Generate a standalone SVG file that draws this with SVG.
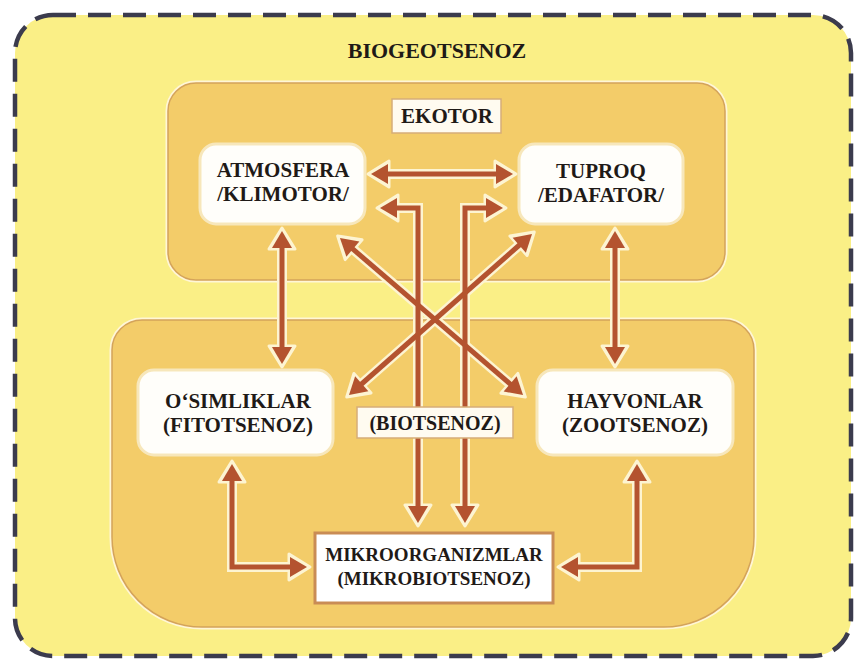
<svg xmlns="http://www.w3.org/2000/svg" width="856" height="661" viewBox="0 0 856 661">
<style>
.t{font-family:"Liberation Serif","Times New Roman",serif;font-weight:bold;fill:#1f1a17;text-anchor:middle;font-size:21px}
.s{font-size:19px}
.n{fill:#fffefa;stroke:#f7e7bb;stroke-width:3}
.lab{fill:#fffbf0;stroke:#d6ad78;stroke-width:1.5}
.reg{fill:#f3cc69;stroke:#d4a35a;stroke-width:1.5}
.regh{fill:none;stroke:#fff6d6;stroke-width:5}
.halo{fill:none;stroke:#fdf4d2;stroke-width:10;marker-start:url(#hh);marker-end:url(#hh)}
.arr{fill:none;stroke:#b4532f;stroke-width:5;marker-start:url(#ah);marker-end:url(#ah)}
</style>
<defs>
<marker id="ah" markerUnits="userSpaceOnUse" markerWidth="20" markerHeight="22" refX="0" refY="10" orient="auto-start-reverse" overflow="visible">
<path d="M-1,0 L16,10 L-1,20 Z" fill="#b4532f"/>
</marker>
<marker id="hh" markerUnits="userSpaceOnUse" markerWidth="26" markerHeight="30" refX="0" refY="10" orient="auto-start-reverse" overflow="visible">
<path d="M-2,-3 L19,10 L-2,23 Z" fill="#fdf4d2" stroke="#fdf4d2" stroke-width="3" stroke-linejoin="round"/>
</marker>
</defs>
<rect x="0" y="0" width="856" height="661" fill="#ffffff"/>
<g id="frame">
<rect x="15" y="15" width="836" height="641" rx="38" fill="#faef86" stroke="#3b3b4d" stroke-width="4.5" stroke-dasharray="23 12"/>
</g>
<g id="ekotor-region">
<rect class="regh" x="168" y="83" width="557" height="197" rx="28"/>
<rect class="reg" x="168" y="83" width="557" height="197" rx="28"/>
</g>
<g id="biotsenoz-region">
<path class="regh" d="M142,320 H724 A30,30 0 0 1 754,350 V537 A90,90 0 0 1 664,627 H202 A90,90 0 0 1 112,537 V350 A30,30 0 0 1 142,320 Z"/>
<path class="reg" d="M142,320 H724 A30,30 0 0 1 754,350 V537 A90,90 0 0 1 664,627 H202 A90,90 0 0 1 112,537 V350 A30,30 0 0 1 142,320 Z"/>
</g>
<g id="connectors">
<g id="halos">
<path class="halo" d="M387,174 H497"/>
<path class="halo" d="M282,247 V348"/>
<path class="halo" d="M615,247 V348"/>
<path class="halo" d="M352.1,248.4 L510.9,384.6"/>
<path class="halo" d="M520,244.5 L361,384.5"/>
<path class="halo" d="M396,208 H418 V507"/>
<path class="halo" d="M487,208 H465 V507"/>
<path class="halo" d="M232,480 V567 H291"/>
<path class="halo" d="M637,480 V567 H577"/>
</g>
<g id="arrows">
<path class="arr" d="M387,174 H497"/>
<path class="arr" d="M282,247 V348"/>
<path class="arr" d="M615,247 V348"/>
<path class="arr" d="M352.1,248.4 L510.9,384.6"/>
<path class="arr" d="M520,244.5 L361,384.5"/>
<path class="arr" d="M396,208 H418 V507"/>
<path class="arr" d="M487,208 H465 V507"/>
<path class="arr" d="M232,480 V567 H291"/>
<path class="arr" d="M637,480 V567 H577"/>
</g>
</g>
<g id="title">
<text class="t" x="437" y="58" style="font-size:22px">BIOGEOTSENOZ</text>
</g>
<g id="ekotor">
<rect class="lab" x="392" y="99" width="109" height="34"/>
<text class="t" x="447" y="123">EKOTOR</text>
</g>
<g id="atmosfera">
<rect class="n" x="200" y="144" width="165" height="80" rx="16"/>
<text class="t" x="283" y="177">ATMOSFERA</text>
<text class="t" x="283" y="201">/KLIMOTOR/</text>
</g>
<g id="tuproq">
<rect class="n" x="519" y="144" width="164" height="80" rx="16"/>
<text class="t" x="601" y="178">TUPROQ</text>
<text class="t" x="601" y="202">/EDAFATOR/</text>
</g>
<g id="osimliklar">
<rect class="n" x="138" y="370" width="195" height="85" rx="16"/>
<text class="t" x="238" y="408">O‘SIMLIKLAR</text>
<text class="t" x="238" y="432">(FITOTSENOZ)</text>
</g>
<g id="biotsenoz">
<rect class="lab" x="357" y="407" width="156" height="31"/>
<text class="t" x="435" y="430" style="font-size:20px">(BIOTSENOZ)</text>
</g>
<g id="hayvonlar">
<rect class="n" x="537" y="370" width="196" height="85" rx="16"/>
<text class="t" x="635" y="408">HAYVONLAR</text>
<text class="t" x="635" y="432">(ZOOTSENOZ)</text>
</g>
<g id="mikroorganizmlar">
<rect x="315" y="533" width="238" height="70" fill="#ffffff" stroke="#c98c55" stroke-width="3"/>
<text class="t s" x="434" y="561">MIKROORGANIZMLAR</text>
<text class="t s" x="434" y="585">(MIKROBIOTSENOZ)</text>
</g>
</svg>
